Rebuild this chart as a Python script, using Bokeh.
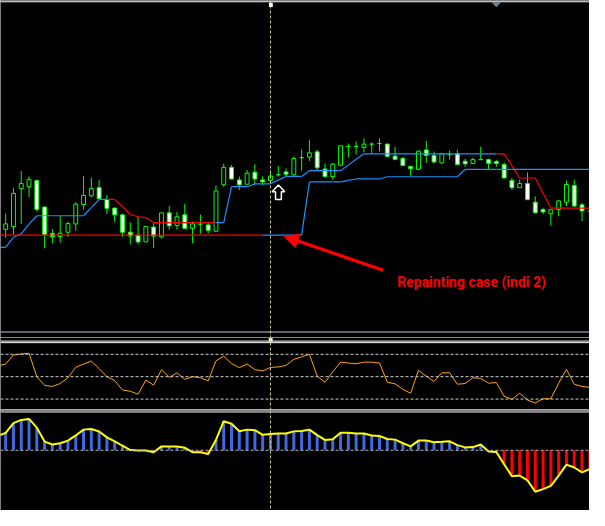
from bokeh.plotting import figure
from bokeh.layouts import column
from bokeh.models import Range1d, Span, Arrow, NormalHead, Label, ColumnDataSource
from bokeh.embed import file_html
from bokeh.resources import INLINE

# ---------------- data ----------------
# candles, bar index 0..75
opens = [113.7, 116.5, 155.7, 157.7, 164.0, 136.7, 109.3, 106.3, 110.7, 119.3,
         139.3, 148.3, 156.7, 144.7, 135.7, 128.7, 110.7, 107.7, 100.7, 116.0,
         106.0, 130.7, 117.7, 128.7, 114.7, 119.0, 118.3, 111.7, 159.7, 177.7,
         164.7, 160.3, 172.7, 164.7, 164.3, 170.0, 173.0, 170.0, 187.7, 188.3,
         193.7, 176.0, 168.3, 180.0, 199.3, 199.3, 198.3, 201.7, 202.3, 201.7,
         189.3, 187.0, 178.7, 175.7, 195.7, 190.0, 182.3, 191.0, 191.7, 184.0,
         181.7, 185.7, 185.7, 183.7, 180.7, 164.0, 156.7, 161.0, 141.7, 134.0,
         129.7, 134.0, 141.7, 159.0, 139.0, 132.3]
highs = [130.0, 156.7, 174.0, 168.3, 165.0, 137.0, 114.0, 127.3, 121.7, 141.7,
         169.0, 167.0, 165.0, 149.0, 136.0, 129.0, 121.0, 126.7, 116.7, 120.0,
         131.0, 137.7, 131.7, 140.0, 121.7, 129.0, 120.7, 159.0, 181.7, 180.0,
         168.3, 175.0, 181.0, 168.3, 171.7, 179.0, 176.7, 189.0, 196.0, 206.0,
         196.0, 181.7, 182.3, 200.0, 202.3, 204.3, 207.7, 203.3, 207.7, 202.3,
         199.0, 188.3, 179.0, 195.0, 205.0, 194.0, 191.7, 195.0, 196.0, 186.7,
         187.7, 199.0, 186.7, 185.7, 182.7, 166.7, 165.0, 172.3, 147.7, 136.0,
         134.0, 144.0, 164.0, 165.0, 141.0, 132.3]
lows = [105.0, 108.3, 119.3, 147.0, 132.0, 94.3, 99.3, 100.0, 106.0, 112.3,
        134.0, 146.7, 145.0, 129.3, 121.3, 106.0, 98.3, 98.3, 100.5, 94.3,
        104.0, 113.3, 113.3, 114.0, 99.3, 109.0, 109.3, 111.7, 157.7, 165.0,
        154.3, 160.3, 160.0, 159.3, 161.7, 168.3, 168.3, 169.0, 174.3, 184.3,
        175.0, 167.3, 165.0, 179.0, 187.7, 191.0, 193.3, 191.7, 194.3, 188.3,
        185.0, 179.0, 169.0, 175.0, 182.3, 181.7, 181.0, 185.7, 180.0, 178.3,
        181.7, 185.7, 175.7, 178.3, 166.7, 154.3, 156.7, 144.3, 130.7, 129.3,
        117.3, 127.3, 137.7, 137.3, 122.3, 132.3]
closes = [119.3, 150.7, 161.0, 165.0, 134.3, 108.3, 106.0, 109.7, 119.7, 139.7,
          148.7, 155.7, 145.3, 135.3, 128.7, 110.7, 106.7, 100.7, 116.7, 106.7,
          130.7, 117.3, 126.7, 114.7, 119.3, 119.0, 112.7, 153.3, 177.7, 165.7,
          159.7, 171.7, 165.7, 162.7, 168.7, 170.0, 170.7, 186.7, 187.7, 192.7,
          177.3, 168.3, 181.0, 200.0, 199.3, 199.3, 201.7, 201.7, 202.3, 189.0,
          186.0, 179.7, 176.3, 194.3, 190.0, 183.3, 191.7, 191.0, 180.7, 181.3,
          185.7, 185.7, 181.7, 181.7, 166.7, 156.7, 161.0, 144.3, 130.7, 131.7,
          134.0, 143.0, 160.0, 137.7, 132.7, 132.3]

# indicator lines, bar index -1..75
trail_upper = [95.0, 95.0, 105.5, 109.0, 119.0, 127.7, 127.7, 127.7, 127.7, 127.7,
               127.7, 127.7, 136.2, 144.7, 144.7, 144.7, 137.0, 129.0, 126.7, 125.7,
               120.7, 120.7, 120.7, 120.7, 120.7, 120.7, 120.7, 120.7, 120.7, 120.7,
               157.7, 157.7, 157.7, 160.7, 160.7, 160.7, 164.5, 168.3, 168.3, 168.3,
               174.3, 174.3, 174.3, 174.3, 174.3, 180.0, 186.0, 191.7, 191.7, 191.7,
               191.7, 191.7, 191.7, 191.7, 191.7, 191.7, 191.7, 191.7, 191.7, 191.7,
               191.7, 191.7, 191.7, 191.7, 191.7, 191.7, 179.5, 166.7, 166.7, 166.7,
               151.0, 135.7, 135.7, 135.7, 135.7, 135.7, 135.7]
upper_state = [1] * 15 + [-1] * 14 + [1] * 36 + [-1] * 12
trail_lower = [107.7] * 40 + [162.7] * 5 + [164.3] + [165.7] * 4 + [168.0] * 10 + [175.7] * 17
lower_state = [-1] * 35 + [1] * 42

oscillator = [59.6, 61.3, 69.4, 70.3, 70.9, 50.0, 42.2, 41.3, 43.9, 49.1,
              58.3, 61.3, 63.9, 57.2, 50.0, 46.5, 38.1, 37.0, 34.3, 47.0,
              42.4, 56.1, 49.4, 53.5, 47.7, 50.0, 49.1, 46.2, 64.2, 68.3,
              61.6, 58.1, 61.3, 56.3, 55.2, 58.3, 58.7, 60.1, 65.5, 67.7,
              70.0, 50.5, 45.0, 54.3, 63.0, 62.2, 61.6, 63.0, 63.0, 62.2,
              45.0, 43.6, 38.7, 35.2, 55.7, 50.5, 45.7, 53.5, 53.5, 43.3,
              43.9, 49.1, 48.5, 44.2, 44.8, 32.6, 29.7, 35.2, 29.1, 26.5,
              30.3, 30.3, 44.2, 56.6, 43.3, 41.3, 40.4]
osc_levels = [70, 50, 30]

histogram = [14.7, 18.0, 28.0, 31.3, 32.3, 23.3, 9.0, 6.0, 7.3, 10.0,
             15.3, 21.3, 22.0, 19.3, 13.3, 9.3, 4.7, 0.3, -0.3, -0.3,
             -2.0, 4.0, 4.0, 4.0, 2.7, -2.0, -2.0, -3.7, 10.7, 30.0,
             27.3, 19.7, 21.3, 20.7, 16.0, 16.7, 17.3, 17.3, 19.5, 20.0,
             21.3, 15.7, 10.7, 11.3, 18.0, 18.0, 17.3, 17.3, 15.3, 14.7,
             11.7, 11.0, 7.3, 4.0, 10.0, 10.0, 8.3, 8.7, 9.3, 5.3,
             3.0, 3.3, 6.0, -1.3, -1.7, -14.3, -26.7, -26.0, -31.0, -42.7,
             -40.0, -36.7, -26.0, -14.7, -17.7, -22.7, -19.3]

marker_bar = 34
note_text = "Repainting case (indi 2)"

# ---------------- styling ----------------
LIME = "#00FF00"
BLUE = "#1E90FF"
RED = "#FF0000"
W = 589
bars = list(range(len(opens)))
lbars = list(range(-1, len(opens)))

xr = Range1d(-0.6625, 74.9625)


def px_x(x):
    return (x - 5.3) / 8.0


def px_v(y):
    return 350.0 - y


def make_fig(h, y0, y1):
    f = figure(width=W, height=h, x_range=xr, y_range=Range1d(y0, y1),
               output_backend="svg", toolbar_location=None, min_border=0,
               background_fill_color="black", border_fill_color="black",
               outline_line_color=None)
    f.xaxis.visible = False
    f.yaxis.visible = False
    f.xgrid.visible = False
    f.ygrid.visible = False
    return f


# ---------------- main chart ----------------
p1 = make_fig(337, 2, 350)
fills = ["black" if c > o else "white" for o, c in zip(opens, closes)]
csrc = ColumnDataSource(dict(x=bars, h=highs, l=lows,
                             top=[max(o, c) for o, c in zip(opens, closes)],
                             bottom=[min(o, c) for o, c in zip(opens, closes)],
                             fill=fills))
p1.segment(x0="x", y0="l", x1="x", y1="h", line_color=LIME, line_width=1, source=csrc)
p1.vbar(x="x", width=0.5, top="top", bottom="bottom", fill_color="fill",
        line_color=LIME, line_width=1, source=csrc)


def trail(fig, vals, state):
    src = ColumnDataSource(dict(x0=lbars[:-1], x1=lbars[1:], y0=vals[:-1], y1=vals[1:],
                                col=[BLUE if s > 0 else RED for s in state[1:]]))
    fig.segment(x0="x0", y0="y0", x1="x1", y1="y1", line_color="col", line_width=1.2, source=src)


trail(p1, trail_upper, upper_state)
trail(p1, trail_lower, lower_state)

# hollow up arrow icon
ax = [285.5, 292, 288.5, 288.5, 282.5, 282.5, 279]
ay = [190.5, 197.5, 197.5, 205.5, 205.5, 197.5, 197.5]
p1.patch([px_x(v) for v in ax], [px_v(v) for v in ay], fill_color="black",
         line_color="white", line_width=1.5)

# red annotation arrow + text
p1.add_layout(Arrow(end=NormalHead(size=14, fill_color=RED, line_color=RED),
                    x_start=px_x(393), y_start=px_v(278.5), x_end=px_x(291.5), y_end=px_v(243.5),
                    line_color=RED, line_width=3.2))
p1.add_layout(Label(x=px_x(407.5), y=px_v(291), text=note_text, text_color=RED,
                    text_font="Roboto", text_font_style="bold",
                    text_font_size="14px", text_baseline="alphabetic", text_align="left"))

# top / bottom borders and small markers
p1.add_layout(Span(location=px_v(1.3), dimension="width", line_color="white", line_width=1))
p1.add_layout(Span(location=px_v(342.3), dimension="width", line_color="#778899", line_width=1.5))
p1.patch([px_x(v) for v in [504.5, 514, 509.3]], [px_v(v) for v in [2, 2, 7]],
         fill_color="#6E8090", line_color=None)
p1.quad(left=[px_x(275.7)], right=[px_x(279.7)], top=[px_v(2.3)], bottom=[px_v(6.7)],
        fill_color="white", line_color=None)

# ---------------- oscillator window ----------------
p2 = make_fig(73, 19.8, 85.0)
for lv in osc_levels:
    p2.add_layout(Span(location=lv, dimension="width", line_color="#D0D0D0",
                       line_dash="3 2", line_width=1))
p2.line(lbars, oscillator, line_color="#FFA500", line_width=1)
p2.add_layout(Span(location=81.8, dimension="width", line_color="white", line_width=1))
p2.add_layout(Span(location=80.4, dimension="width", line_color="white", line_width=1))
p2.add_layout(Span(location=20.4, dimension="width", line_color="white", line_width=1))
p2.quad(left=[px_x(275.5)], right=[px_x(279.5)], top=[84.5], bottom=[81.5],
        fill_color="white", line_color=None)

# ---------------- histogram window ----------------
p3 = make_fig(100, -62, 41)
hsrc = ColumnDataSource(dict(x=lbars, top=histogram,
                             col=["#4169E1" if v >= 0 else RED for v in histogram]))
p3.vbar(x="x", width=0.38, top="top", bottom=0, fill_color="col", line_color=None, source=hsrc)
p3.add_layout(Span(location=0, dimension="width", line_color="#B0B0B0",
                   line_dash="3 2", line_width=1))
p3.line(lbars, histogram, line_color="#FFFF00", line_width=2)
p3.add_layout(Span(location=39.5, dimension="width", line_color="white", line_width=1))

for f in (p1, p2, p3):
    f.add_layout(Span(location=marker_bar, dimension="height", line_color="#CFC79E",
                      line_dash="3 2", line_width=1))

layout = column(p1, p2, p3, spacing=0)
open("out.html", "w").write(file_html(layout, INLINE))
